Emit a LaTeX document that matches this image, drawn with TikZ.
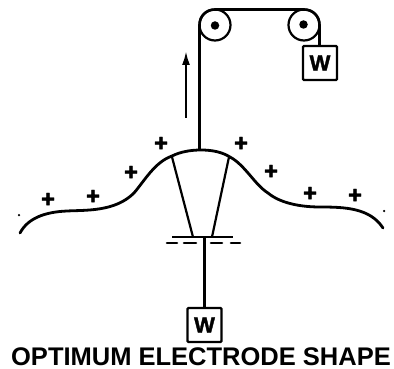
\documentclass[tikz,border=0pt]{standalone}
\usepackage{fontspec,tikz}
\usetikzlibrary{arrows.meta}
\setmainfont{Liberation Sans}
\newfontfamily\heavyfont[FakeBold=1.6]{Liberation Sans Bold}
\tikzset{
  pulley/.style={circle,draw,line width=2.2pt,minimum size=31pt,inner sep=0pt,outer sep=0pt},
  weight/.style={draw,line width=2.2pt,rounded corners=1pt,minimum size=34pt,inner sep=0pt,outer sep=0pt,font=\fontsize{22}{24}\heavyfont},
  axle/.style={circle,fill,minimum size=8.5pt,inner sep=0pt},
  plusmark/.style={inner sep=0pt,font=\fontsize{24}{26}\heavyfont},
  speck/.style={circle,fill,minimum size=2.5pt,inner sep=0pt},
  wire/.style={line width=2.2pt},
  belt/.style={line width=2.6pt},
  profile/.style={line width=2.8pt,line cap=round},
  charge/.style={line width=2.6pt,line cap=round},
}
\begin{document}
\begin{tikzpicture}[x=1pt,y=-1pt]
\path[use as bounding box] (0,0) rectangle (394,369);
\node[pulley] (pulleyL) at (215,25) {};
\node[pulley] (pulleyR) at (304,25) {};
\node[axle] (axleL) at (215,25.5) {};
\node[axle] (axleR) at (303.5,24.5) {};
\node[weight] (weightR) at (320,63) {W};
\node[weight] (weightB) at (204.5,325) {W};
\coordinate (crest) at (pulleyL.west |- 0,150);
\coordinate (plate) at (204.5,237);
\draw[belt] (crest) -- (pulleyL.west) .. controls +(0,-9) and +(-9,0) .. (pulleyL.north) -- (pulleyR.north) .. controls +(9,0) and +(0,-9) .. (pulleyR.east) -- (pulleyR.east |- weightR.north);
\coordinate (arrowfoot) at (186,118);
\coordinate (arrowhead) at (186,51);
\draw[wire,-{Latex[length=14pt,width=8pt]}] (arrowfoot) -- (arrowhead);
% electrode
\draw[profile] (20,233) .. controls (28,218) and (45,212) .. (67,211) .. controls (85,210) and (115,212) .. (134,193) .. controls (145,180) and (155,162) .. (172,156) .. controls (180,152) and (190,150) .. (201,150) .. controls (212,150) and (222,152) .. (230,157) .. controls (245,165) and (255,185) .. (268,193) .. controls (280,203) and (300,207) .. (320,207) .. controls (345,207) and (370,208) .. (383,228);
\coordinate (shoulderL) at (172,157);
\coordinate (shoulderR) at (229,157);
\coordinate (footL) at (193,237);
\coordinate (footR) at (212,237);
\draw[wire] (shoulderL) -- (footL);
\draw[wire] (shoulderR) -- (footR);
\coordinate (lineL) at (172,237);
\coordinate (lineR) at (233,237);
\draw[wire] (lineL) -- (lineR);
\draw[wire] (plate) -- (weightB.north);
\draw[charge] (167,243) -- (177,243);
\draw[charge] (184,243) -- (196,243);
\draw[charge] (211,243) -- (222,243);
\draw[charge] (231,243) -- (240,243);
\node[plusmark] (plus1) at (48,200) {+};
\node[plusmark] (plus2) at (93,197) {+};
\node[plusmark] (plus3) at (131,173) {+};
\node[plusmark] (plus4) at (161,144) {+};
\node[plusmark] (plus5) at (241,144) {+};
\node[plusmark] (plus6) at (271,172) {+};
\node[plusmark] (plus7) at (310,194) {+};
\node[plusmark] (plus8) at (355,196) {+};
\node[speck] (speckL) at (19,215) {};
\node[speck] (speckR) at (384,211) {};
\node[anchor=base,inner sep=0pt,font=\fontsize{25.5}{28}\selectfont\bfseries] (title) at (201,365) {OPTIMUM ELECTRODE SHAPE};
\end{tikzpicture}
\end{document}
